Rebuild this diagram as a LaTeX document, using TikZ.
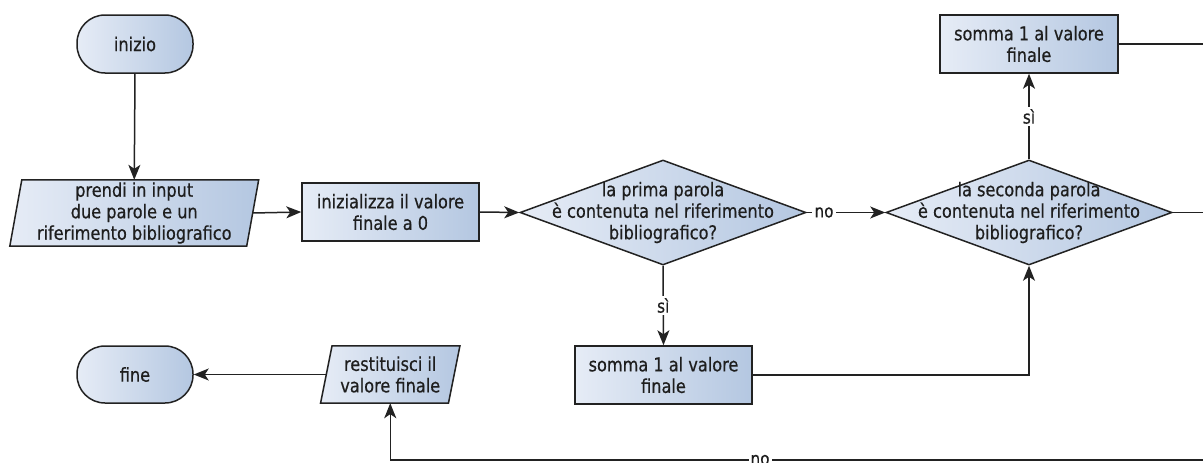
\documentclass[tikz,border=0pt]{standalone}
\usepackage{fontspec}
\setmainfont[FakeStretch=0.85,FakeBold=0.5]{DejaVu Sans}
\usetikzlibrary{shapes.geometric,arrows.meta}
\pgfdeclarelayer{background}
\pgfsetlayers{background,main}
\definecolor{boxL}{HTML}{E6ECF6}
\definecolor{boxR}{HTML}{B4C7E1}
\definecolor{lc}{HTML}{222222}
\definecolor{tc}{HTML}{1E1E1E}
\begin{document}
\begin{tikzpicture}[x=1pt,y=-1pt,
  every node/.style={font=\fontsize{19}{21.5}\selectfont, text=tc},
  boxfill/.style={draw=lc, line width=1.5pt, left color=boxL, right color=boxR},
  procbox/.style={boxfill, rectangle, inner sep=0pt, minimum width=#1, minimum height=58pt, align=center},
  termbox/.style={boxfill, rectangle, rounded corners=28pt, inner sep=0pt, minimum width=116pt, minimum height=58pt},
  iobox/.style={rectangle, inner sep=0pt, align=center},
  decbox/.style={boxfill, diamond, inner sep=0pt, minimum width=286pt, minimum height=105pt},
  dectext/.style={align=center, inner sep=0pt},
  conn/.style={draw=lc, line width=1.5pt},
  arr/.style={conn, -{Stealth[length=15pt,width=12pt,inset=4pt]}},
  lab/.style={fill=white, inner sep=2pt, font=\fontsize{18}{20}\selectfont}
]
\useasboundingbox (0,0) rectangle (1203,463);

% nodes
\node[termbox] (inizio) at (135,44) {inizio};
\node[iobox, minimum width=236.5pt, minimum height=66pt] (prendi) at (134.25,213)
  {prendi in input\\due parole e un\\riferimento bibliografico};
\node[procbox=177pt] (init) at (390.5,212) {inizializza il valore\\finale a 0};
\node[decbox] (d1) at (663,212.5) {};
\node[dectext] (d1text) at (663,212.5) {la prima parola\\è contenuta nel riferimento\\bibliografico?};
\node[decbox] (d2) at (1029,212.5) {};
\node[dectext] (d2text) at (1029,212.5) {la seconda parola\\è contenuta nel riferimento\\bibliografico?};
\node[procbox=178pt] (stop) at (1029,44) {somma 1 al valore\\finale};
\node[procbox=177pt] (sbot) at (663.5,375) {somma 1 al valore\\finale};
\node[iobox, minimum width=127.5pt, minimum height=57pt] (rest) at (390.25,374.5)
  {restituisci il\\valore finale};
\node[termbox, minimum height=57pt] (fine) at (135,374.5) {fine};

% parallelogram outlines
\begin{pgfonlayer}{background}
\path[boxfill] ([xshift=-6pt]prendi.south west) -- ([xshift=-6pt]prendi.south east)
  -- ([xshift=6pt]prendi.north east) -- ([xshift=6pt]prendi.north west) -- cycle;
\path[boxfill] ([xshift=-5.75pt]rest.south west) -- ([xshift=-5.75pt]rest.south east)
  -- ([xshift=5.75pt]rest.north east) -- ([xshift=5.75pt]rest.north west) -- cycle;
\end{pgfonlayer}

% free ends
\coordinate (tout) at (1203,44);
\coordinate (dout) at (1203,212.5);
\coordinate (rin) at (1203,460);
\coordinate (rc) at (390.25,460);

% connectors
\draw[arr] (inizio.south) -- (prendi.north);
\draw[arr] (prendi.east) -- (init.west);
\draw[arr] (init.east) -- (d1.west);
\draw[arr] (d1.east) -- node[lab, pos=0.22] (no1) {no} (d2.west);
\draw[arr] (d2.north) -- node[lab, pos=0.5] (si1) {sì} (stop.south);
\draw[arr] (d1.south) -- node[lab, pos=0.5] (si2) {sì} (sbot.north);
\draw[arr] (sbot.east) -| (d2.south);
\draw[conn] (stop.east) -- (tout);
\draw[conn] (d2.east) -- (dout);
\draw[arr] (rin) -- node[lab, pos=0.545] (no2) {no} (rc) -- (rest.south);
\draw[arr] (rest.west) -- (fine.east);
\end{tikzpicture}
\end{document}
